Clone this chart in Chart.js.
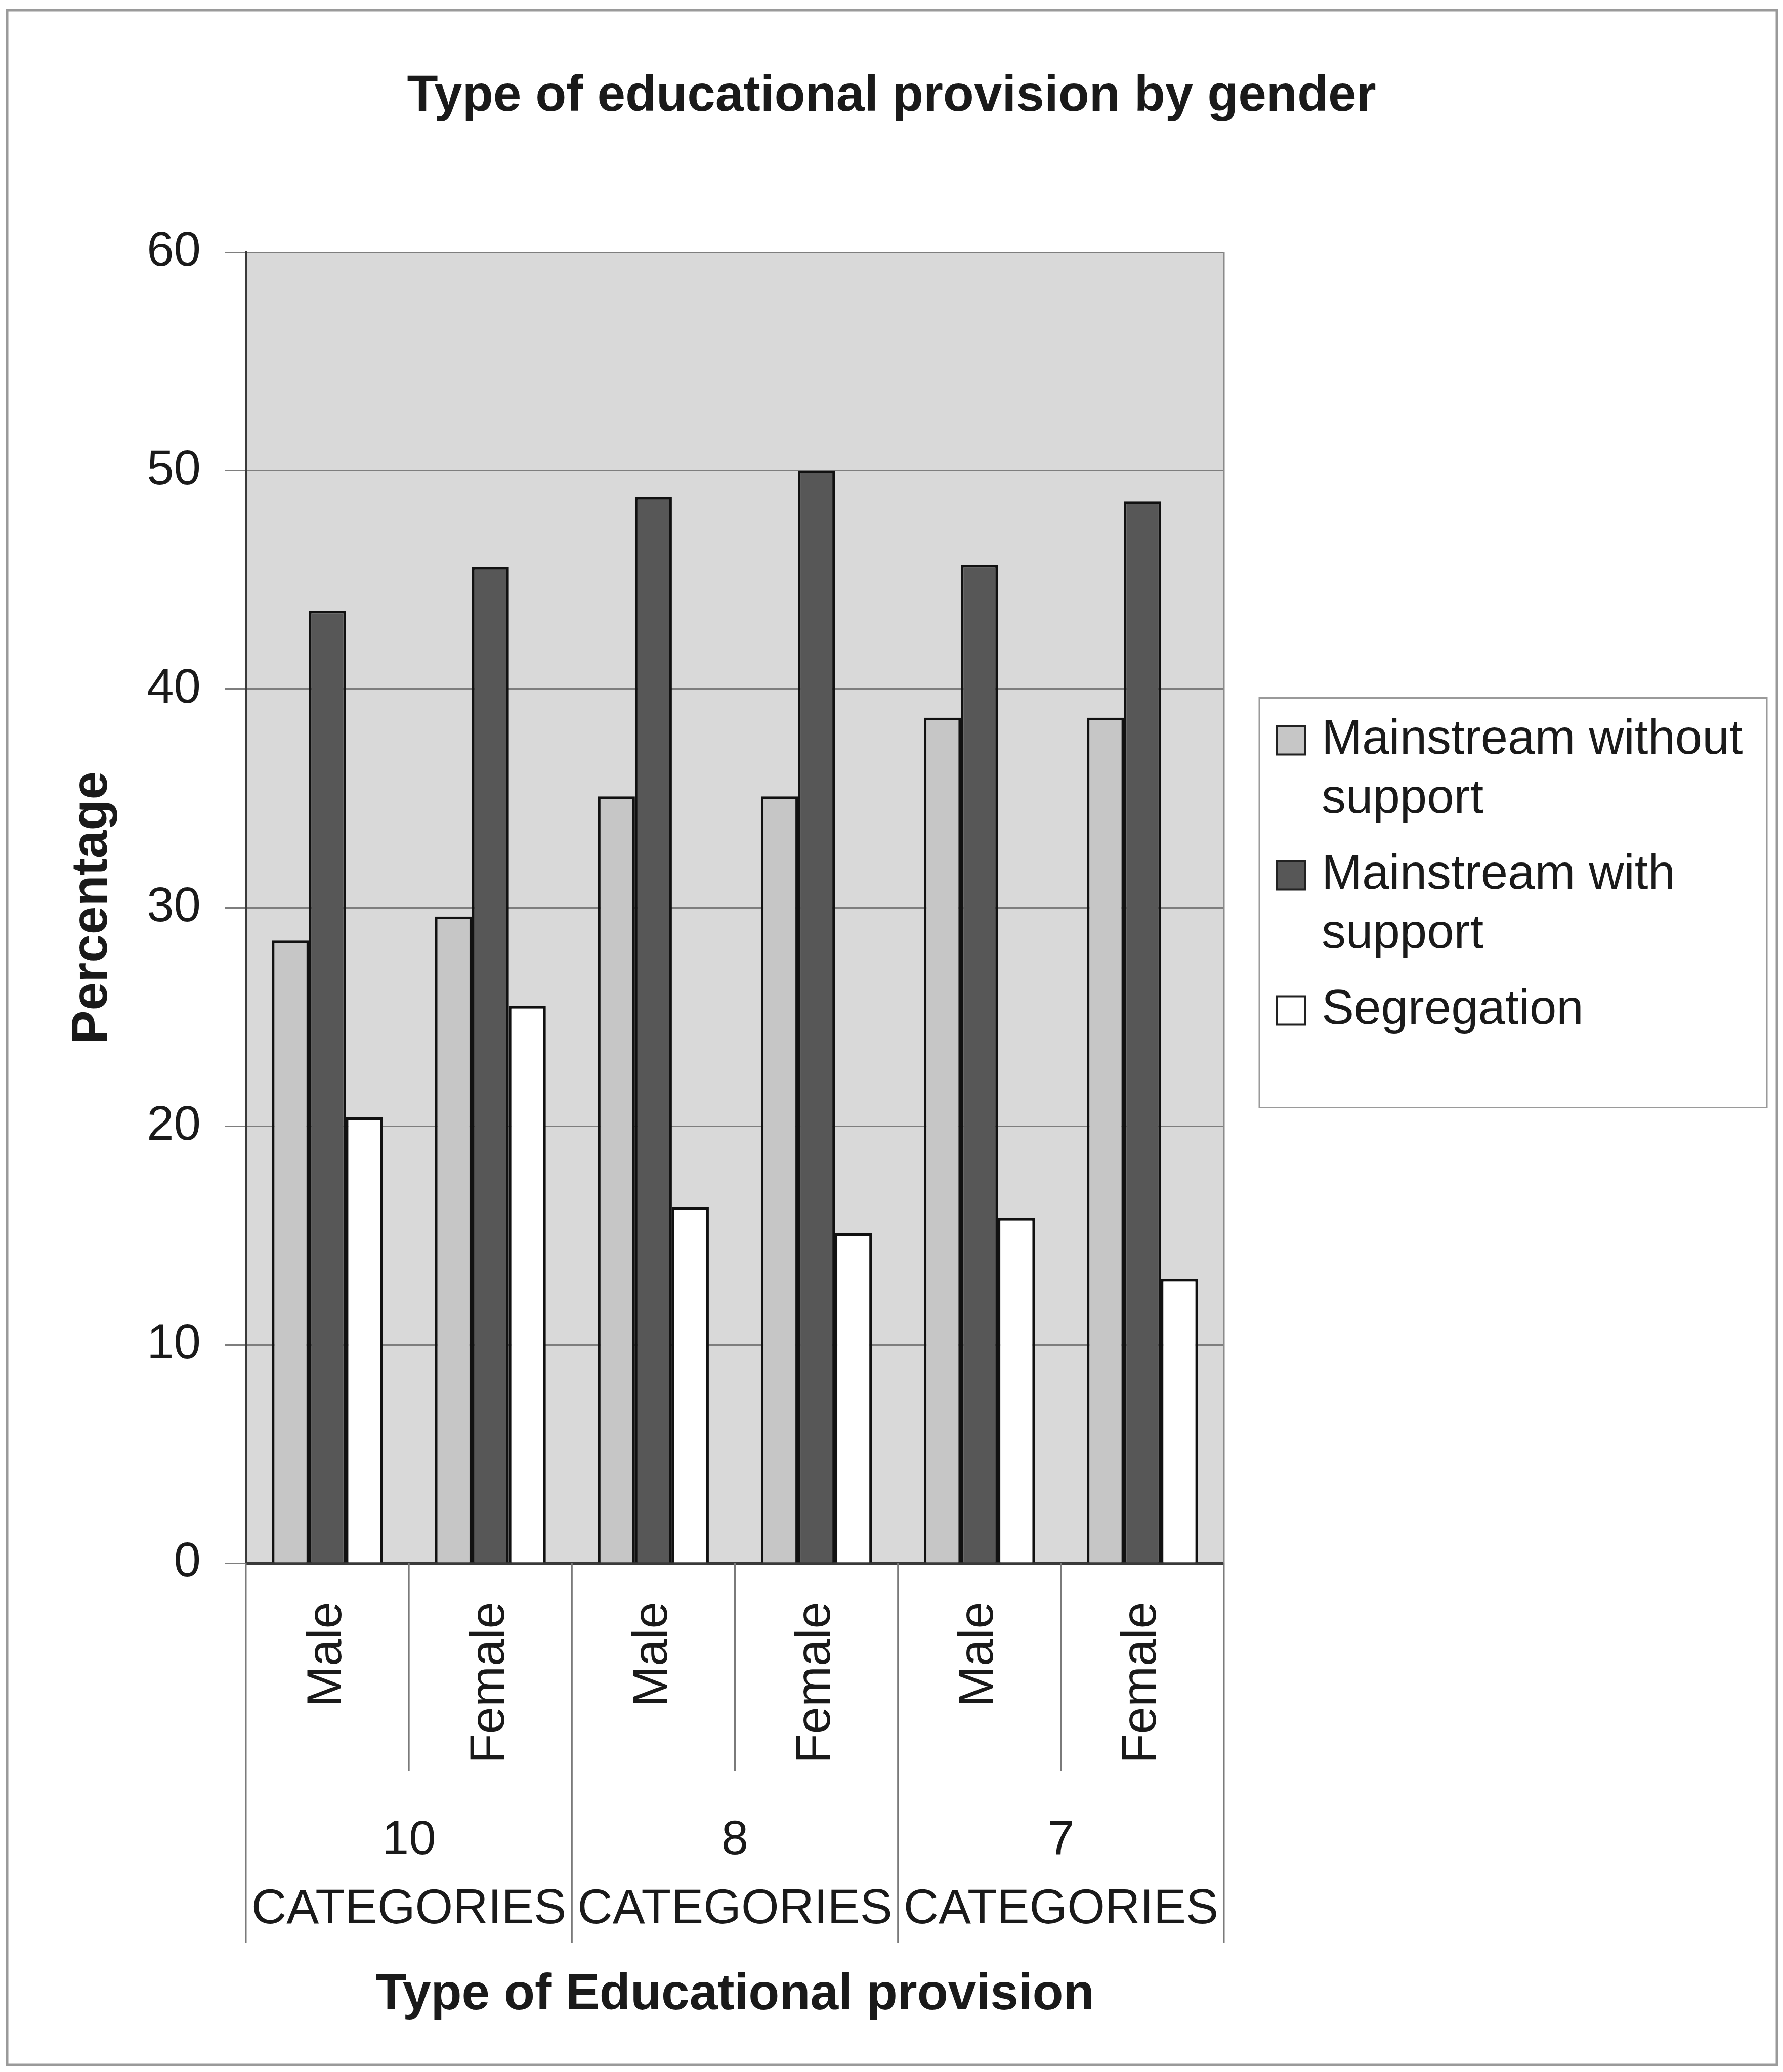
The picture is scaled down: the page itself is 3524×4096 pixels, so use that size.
<!DOCTYPE html>
<html>
<head>
<meta charset="utf-8">
<title>Type of educational provision by gender</title>
<script src="https://cdn.jsdelivr.net/npm/chart.js@4.4.1/dist/chart.umd.min.js"></script>
<style>
  html, body { margin: 0; padding: 0; background: #fff; }
  #wrap { width: 3524px; height: 4096px; }
</style>
</head>
<body>
<div id="wrap"><canvas id="eduChart" width="3524" height="4096"></canvas></div>
<script>
// values (percent)
const groupLabels = [['10', 'CATEGORIES'], ['8', 'CATEGORIES'], ['7', 'CATEGORIES']];
const genderLabels = ['Male', 'Female'];
const seriesNames = [['Mainstream without', 'support'], ['Mainstream with', 'support'], ['Segregation']];
const withoutSupport = [28.5, 29.6, 35.1, 35.1, 38.7, 38.7];
const withSupport = [43.6, 45.6, 48.8, 50.0, 45.7, 48.6];
const segregation = [20.4, 25.5, 16.3, 15.1, 15.8, 13.0];
const seriesColors = ['#c6c6c6', '#575757', '#ffffff'];
const yMin = 0, yMax = 60, yStep = 10;

const categories = groupLabels.flatMap(() => genderLabels);

Chart.defaults.font.family = '"Liberation Sans", Arial, sans-serif';
Chart.defaults.font.size = 96;
Chart.defaults.color = '#1a1a1a';

// grey plot area, category separators, boxed legend, page frame
const decor = {
    id: 'decor',
    beforeDraw(chart) {
        const { ctx, chartArea: a } = chart;
        ctx.save();
        ctx.fillStyle = '#fff';
        ctx.fillRect(0, 0, chart.width, chart.height);
        ctx.fillStyle = '#d9d9d9';
        ctx.fillRect(a.left, a.top, a.width, a.height);
        ctx.restore();
    },
    afterDraw(chart) {
        const { ctx, chartArea: a } = chart;
        const x = chart.scales.x;
        ctx.save();

        // right edge of the plot
        ctx.strokeStyle = '#8a8a8a';
        ctx.lineWidth = 3;
        ctx.beginPath();
        ctx.moveTo(a.right, a.top);
        ctx.lineTo(a.right, a.bottom);
        ctx.stroke();

        // separators under the axis
        ctx.strokeStyle = '#7a7a7a';
        ctx.beginPath();
        for (let i = 0; i <= categories.length; i++) {
            const px = x.getPixelForValue(i - 0.5);
            const long = i % genderLabels.length === 0;
            ctx.moveTo(px, a.bottom);
            ctx.lineTo(px, long ? x.bottom + 340 : x.bottom);
        }
        ctx.stroke();

        // legend
        const boxW = 1003, boxH = 810;
        const bx = a.right + 70;
        const by = (a.top + a.bottom) / 2 - boxH / 2 - 10;
        ctx.strokeStyle = '#9a9a9a';
        ctx.lineWidth = 3;
        ctx.strokeRect(bx, by, boxW, boxH);
        ctx.font = '96px "Liberation Sans", Arial, sans-serif';
        ctx.textBaseline = 'middle';
        let cy = by + 84;
        chart.data.datasets.forEach((ds, i) => {
            ctx.fillStyle = ds.backgroundColor;
            ctx.fillRect(bx + 34, cy - 28, 56, 56);
            ctx.strokeStyle = '#222';
            ctx.lineWidth = 4;
            ctx.strokeRect(bx + 34, cy - 28, 56, 56);
            ctx.fillStyle = '#1a1a1a';
            seriesNames[i].forEach((line, j) => {
                ctx.fillText(line, bx + 123, cy + j * 117);
            });
            cy += 267;
        });

        // page frame
        ctx.strokeStyle = '#9a9a9a';
        ctx.lineWidth = 5;
        ctx.strokeRect(14, 20, chart.width - 26, chart.height - 34);
        ctx.restore();
    }
};

new Chart(document.getElementById('eduChart'), {
    type: 'bar',
    data: {
        labels: categories,
        datasets: [
            { label: seriesNames[0].join(' '), data: withoutSupport, backgroundColor: seriesColors[0] },
            { label: seriesNames[1].join(' '), data: withSupport, backgroundColor: seriesColors[1] },
            { label: seriesNames[2].join(' '), data: segregation, backgroundColor: seriesColors[2] }
        ].map(ds => ({ ...ds, borderColor: '#111', borderWidth: 5, categoryPercentage: 0.68, barPercentage: 1.0 }))
    },
    options: {
        responsive: false,
        animation: false,
        devicePixelRatio: 1,
        layout: { padding: { left: 40, right: 40, top: 40, bottom: 40 } },
        plugins: {
            legend: { display: false },
            tooltip: { enabled: false },
            title: {
                display: true,
                text: 'Type of educational provision by gender',
                font: { size: 100, weight: 'bold' },
                padding: { top: 91, bottom: 248 }
            }
        },
        scales: {
            y: {
                min: yMin,
                max: yMax,
                ticks: { stepSize: yStep, padding: 47, font: { size: 96 } },
                grid: { color: '#7e7e7e', lineWidth: 3, tickLength: 42 },
                border: { color: '#3a3a3a', width: 5 },
                title: {
                    display: true,
                    text: 'Percentage',
                    font: { size: 100, weight: 'bold' },
                    padding: { top: 83, bottom: 50 }
                },
                afterFit: (s) => { s.width = 446; }
            },
            // empty right-hand axis that keeps room for the legend box
            side: {
                type: 'linear',
                position: 'right',
                grid: { display: false },
                border: { display: false },
                ticks: { display: false },
                afterFit: (s) => { s.width = 1065; }
            },
            x: {
                offset: true,
                grid: { display: false, drawTicks: false },
                border: { color: '#3a3a3a', width: 5 },
                ticks: { autoSkip: false, minRotation: 90, maxRotation: 90, padding: 76, font: { size: 96 } },
                afterFit: (s) => { s.height = 410; }
            },
            x2: {
                type: 'category',
                position: 'bottom',
                labels: groupLabels,
                offset: true,
                grid: { display: false, drawTicks: false },
                border: { display: false },
                ticks: { autoSkip: false, maxRotation: 0, padding: 71, font: { size: 96, lineHeight: 1.42 } },
                title: {
                    display: true,
                    text: 'Type of Educational provision',
                    font: { size: 100, weight: 'bold' },
                    padding: { top: 0, bottom: 52 }
                },
                afterFit: (s) => { s.height = 556; }
            }
        }
    },
    plugins: [decor]
});
</script>
</body>
</html>
